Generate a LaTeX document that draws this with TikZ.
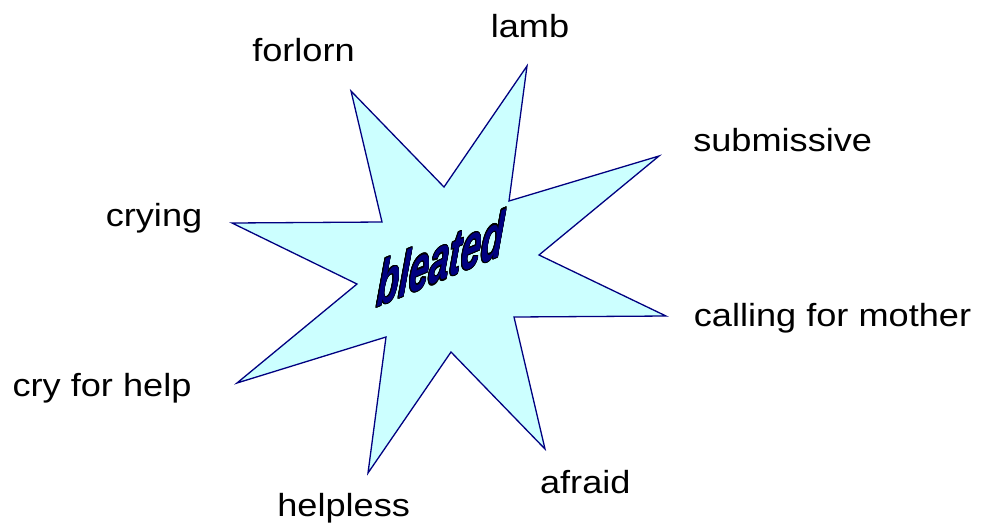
\documentclass[tikz,border=0pt]{standalone}
\usepackage{fontspec}
\setmainfont{Liberation Sans}[FakeStretch=1.13]
\usepackage{contour}
\contourlength{1.1pt}
\usetikzlibrary{positioning}
\definecolor{starfill}{HTML}{CCFFFF}
\definecolor{starline}{HTML}{000080}

\begin{document}
\begin{tikzpicture}[x=1pt, y=-1pt,
    word/.style={anchor=base, inner sep=0pt, font=\fontsize{32}{38}\selectfont},
    star/.style={draw=starline, fill=starfill, line width=1.3pt, line join=miter},
    title/.style={text=starline, inner sep=0pt,
                  font=\fontsize{58}{64}\selectfont\bfseries\itshape}
]
    \useasboundingbox (0,0) rectangle (981,523);

    \draw[star] (351,91) -- (444,187) -- (527,66) -- (509,201)
        -- (659,156) -- (539,255) -- (666,316) -- (514,317)
        -- (545,449) -- (451,352) -- (368,473) -- (386,337)
        -- (237,383) -- (357,284) -- (232,223) -- (382,222) -- cycle;

    \node[title, cm={0.55,0.23,0.09,1.1,(441,259)}, transform shape]
        (bleat) {\contour{black}{bleated}};

    \node[word] (forlorn)    at (303.5,61.7)  {forlorn};
    \node[word] (lamb)       at (530,37)      {lamb};
    \node[word] (submissive) at (782.7,151.7) {submissive};
    \node[word] (calling)    at (832.5,326)   {calling for mother};
    \node[word] (afraid)     at (585.3,493.3) {afraid};
    \node[word] (helpless)   at (343.7,516.7) {helpless};
    \node[word] (cryhelp)    at (102,396)     {cry for help};
    \node[word] (crying)     at (154,226.7)   {crying};
\end{tikzpicture}
\end{document}
